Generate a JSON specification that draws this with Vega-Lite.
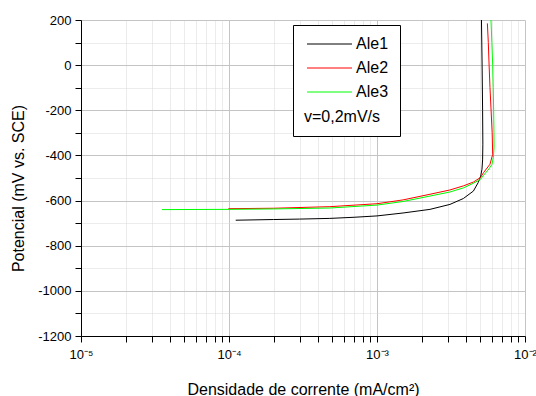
{
  "$schema": "https://vega.github.io/schema/vega-lite/v6.json",
  "width": 444,
  "height": 316,
  "autosize": {"type": "none"},
  "padding": {"left": 81, "top": 20, "right": 11, "bottom": 60},
  "config": {"view": {"stroke": null}, "font": "Liberation Sans"},
  "data": {"values": [
    {"s": "Ale1", "j": 1.11e-4, "E": -687},
    {"s": "Ale1", "j": 2e-4, "E": -684},
    {"s": "Ale1", "j": 3e-4, "E": -682},
    {"s": "Ale1", "j": 4.8e-4, "E": -679},
    {"s": "Ale1", "j": 7e-4, "E": -674},
    {"s": "Ale1", "j": 1e-3, "E": -668},
    {"s": "Ale1", "j": 1.5e-3, "E": -655},
    {"s": "Ale1", "j": 2.28e-3, "E": -639},
    {"s": "Ale1", "j": 3.11e-3, "E": -617},
    {"s": "Ale1", "j": 3.83e-3, "E": -591},
    {"s": "Ale1", "j": 4.48e-3, "E": -558},
    {"s": "Ale1", "j": 4.83e-3, "E": -520},
    {"s": "Ale1", "j": 5.02e-3, "E": -491},
    {"s": "Ale1", "j": 5.12e-3, "E": -461},
    {"s": "Ale1", "j": 5.17e-3, "E": -420},
    {"s": "Ale1", "j": 5.19e-3, "E": -350},
    {"s": "Ale1", "j": 5.17e-3, "E": -200},
    {"s": "Ale1", "j": 5.13e-3, "E": 0},
    {"s": "Ale1", "j": 5.08e-3, "E": 200},
    {"s": "Ale2", "j": 9.9e-5, "E": -636},
    {"s": "Ale2", "j": 2e-4, "E": -634},
    {"s": "Ale2", "j": 4.8e-4, "E": -627},
    {"s": "Ale2", "j": 1e-3, "E": -614},
    {"s": "Ale2", "j": 1.5e-3, "E": -597},
    {"s": "Ale2", "j": 2.28e-3, "E": -572},
    {"s": "Ale2", "j": 3.11e-3, "E": -553},
    {"s": "Ale2", "j": 3.83e-3, "E": -535},
    {"s": "Ale2", "j": 4.48e-3, "E": -518},
    {"s": "Ale2", "j": 5e-3, "E": -498},
    {"s": "Ale2", "j": 5.25e-3, "E": -476},
    {"s": "Ale2", "j": 5.8e-3, "E": -439},
    {"s": "Ale2", "j": 6.05e-3, "E": -395},
    {"s": "Ale2", "j": 6.0e-3, "E": -300},
    {"s": "Ale2", "j": 5.9e-3, "E": -200},
    {"s": "Ale2", "j": 5.8e-3, "E": -100},
    {"s": "Ale2", "j": 5.72e-3, "E": 0},
    {"s": "Ale2", "j": 5.65e-3, "E": 100},
    {"s": "Ale2", "j": 5.57e-3, "E": 185},
    {"s": "Ale3", "j": 3.52e-5, "E": -640},
    {"s": "Ale3", "j": 1e-4, "E": -639},
    {"s": "Ale3", "j": 2e-4, "E": -637},
    {"s": "Ale3", "j": 4.8e-4, "E": -633},
    {"s": "Ale3", "j": 1e-3, "E": -620},
    {"s": "Ale3", "j": 1.5e-3, "E": -604},
    {"s": "Ale3", "j": 2.28e-3, "E": -580},
    {"s": "Ale3", "j": 3.11e-3, "E": -562},
    {"s": "Ale3", "j": 3.83e-3, "E": -544},
    {"s": "Ale3", "j": 4.48e-3, "E": -523},
    {"s": "Ale3", "j": 5e-3, "E": -506},
    {"s": "Ale3", "j": 5.25e-3, "E": -488},
    {"s": "Ale3", "j": 5.7e-3, "E": -460},
    {"s": "Ale3", "j": 5.98e-3, "E": -440},
    {"s": "Ale3", "j": 6.11e-3, "E": -410},
    {"s": "Ale3", "j": 6.18e-3, "E": -365},
    {"s": "Ale3", "j": 6.17e-3, "E": -300},
    {"s": "Ale3", "j": 6.14e-3, "E": -200},
    {"s": "Ale3", "j": 6.1e-3, "E": -100},
    {"s": "Ale3", "j": 6.05e-3, "E": 0},
    {"s": "Ale3", "j": 5.97e-3, "E": 100},
    {"s": "Ale3", "j": 5.89e-3, "E": 200}
  ]},
  "mark": {"type": "line", "strokeWidth": 1, "clip": true},
  "encoding": {
    "x": {
      "field": "j", "type": "quantitative",
      "scale": {"type": "log", "domain": [1e-5, 1e-2], "nice": false},
      "axis": {
        "values": [1e-5, 2e-5, 3e-5, 4e-5, 5e-5, 6e-5, 7e-5, 8e-5, 9e-5, 1e-4, 2e-4, 3e-4, 4e-4, 5e-4, 6e-4, 7e-4, 8e-4, 9e-4, 1e-3, 2e-3, 3e-3, 4e-3, 5e-3, 6e-3, 7e-3, 8e-3, 9e-3, 1e-2],
        "labelExpr": "abs(log(datum.value)/LN10 - round(log(datum.value)/LN10)) < 0.01 ? '10' + ['⁻⁵','⁻⁴','⁻³','⁻²'][round(log(datum.value)/LN10)+5] : ''",
        "grid": true,
        "gridColor": {"condition": {"test": "abs(log(datum.value)/LN10 - round(log(datum.value)/LN10)) < 0.01", "value": "#c4c4c4"}, "value": "#d8d8d8"},
        "gridDash": {"condition": {"test": "abs(log(datum.value)/LN10 - round(log(datum.value)/LN10)) < 0.01", "value": []}, "value": [1, 1]},
        "ticks": true,
        "tickSize": 6,
        "tickWidth": 1,
        "domainColor": "black",
        "tickColor": "black",
        "labelFontSize": 13,
        "labelColor": "black",
        "labelPadding": 6,
        "labelFlush": false,
        "labelOverlap": false,
        "title": "Densidade de corrente (mA/cm²)",
        "titleFontSize": 16,
        "titleFontWeight": "normal",
        "titleColor": "black",
        "titleY": 58,
        "titleBaseline": "alphabetic"
      }
    },
    "y": {
      "field": "E", "type": "quantitative",
      "scale": {"domain": [-1200, 200], "nice": false, "zero": false},
      "axis": {
        "values": [-1200, -1100, -1000, -900, -800, -700, -600, -500, -400, -300, -200, -100, 0, 100, 200],
        "labelExpr": "datum.value % 200 == 0 ? '' + datum.value : ''",
        "grid": true,
        "gridColor": {"condition": {"test": "datum.value % 200 == 0", "value": "#c4c4c4"}, "value": "#d8d8d8"},
        "gridDash": {"condition": {"test": "datum.value % 200 == 0", "value": []}, "value": [1, 1]},
        "ticks": true,
        "tickSize": 6,
        "tickWidth": 1,
        "domainColor": "black",
        "tickColor": "black",
        "labelFontSize": 13,
        "labelColor": "black",
        "labelPadding": 4,
        "labelOverlap": false,
        "labelFlush": false,
        "title": "Potencial (mV vs. SCE)",
        "titleFontSize": 16,
        "titleFontWeight": "normal",
        "titleColor": "black",
        "titleX": -63,
        "titleY": 168,
        "titleAlign": "center",
        "titleBaseline": "middle",
        "titleAngle": -90
      }
    },
    "color": {
      "field": "s", "type": "nominal",
      "scale": {"domain": ["Ale1", "Ale2", "Ale3"], "range": ["#000000", "#ff0000", "#00ff00"]},
      "legend": {
        "orient": "none",
        "legendX": 212,
        "legendY": 5,
        "title": "v=0,2mV/s",
        "titleOrient": "bottom",
        "titleAnchor": "start",
        "titleFontSize": 16,
        "titleFontWeight": "normal",
        "titleColor": "black",
        "titlePadding": 9,
        "labelFontSize": 16,
        "labelColor": "black",
        "strokeColor": "black",
        "fillColor": "white",
        "padding": 11,
        "symbolType": "M-1,0H8",
        "symbolSize": 100,
        "symbolStrokeWidth": 1,
        "labelOffset": 36,
        "rowPadding": 8
      }
    },
    "order": {"value": null}
  }
}
